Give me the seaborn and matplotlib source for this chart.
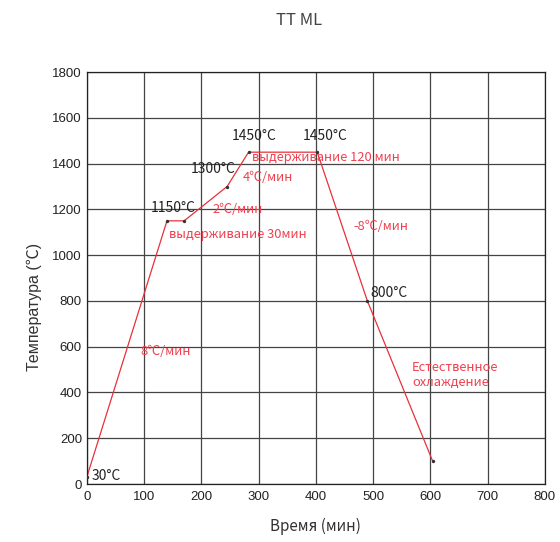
import pandas as pd
import seaborn as sns
import matplotlib.pyplot as plt
from matplotlib.ticker import MultipleLocator

# temperature profile
time_min = [0, 140, 170, 245, 282.5, 402.5, 490, 604]
temp_c = [30, 1150, 1150, 1300, 1450, 1450, 800, 100]

# black labels at points
pt_labels = ["30°C", "1150°C", "1300°C", "1450°C", "1450°C", "800°C"]
pt_x = [8, 112, 182, 253, 377, 496]
pt_y = [35, 1206, 1376, 1520, 1520, 834]

# red segment notes
note_labels = ["8℃/мин", "выдерживание 30мин", "2℃/мин", "4℃/мин",
               "выдерживание 120 мин", "-8℃/мин", "Естественное\nохлаждение"]
note_x = [94, 143, 220, 272, 288, 466, 568]
note_y = [581, 1092, 1201, 1341, 1428, 1127, 476]

df = pd.DataFrame({"time": time_min, "temp": temp_c})

sns.set_style("white")
plt.rcParams['font.family'] = ['Noto Sans CJK SC', 'DejaVu Sans']

fig, ax = plt.subplots(figsize=(5.6, 5.42), dpi=100)
fig.subplots_adjust(left=0.155, right=0.973, top=0.867, bottom=0.107)

sns.lineplot(data=df, x="time", y="temp", sort=False, color="#e8313b", lw=0.9, ax=ax)
ax.scatter(time_min, temp_c, s=2, color="#333333", zorder=3)

ax.set_xlim(0, 800)
ax.set_ylim(0, 1800)
ax.xaxis.set_major_locator(MultipleLocator(100))
ax.xaxis.set_minor_locator(MultipleLocator(50))
ax.yaxis.set_major_locator(MultipleLocator(200))
ax.yaxis.set_minor_locator(MultipleLocator(100))
ax.grid(True, which="major", color="#444444", lw=0.9)
ax.tick_params(which="both", direction="in", labelsize=9.5, colors="#222222")
ax.tick_params(which="major", length=3)
ax.tick_params(which="minor", length=2)
ax.tick_params(axis="x", pad=5)
for lab in ax.get_xticklabels() + ax.get_yticklabels():
    lab.set_family(['Liberation Sans', 'DejaVu Sans'])
for s in ax.spines.values():
    s.set_color("#222222")
    s.set_linewidth(0.9)

ax.set_xlabel("Время (мин)", fontsize=11, color="#333333", labelpad=11)
ax.set_ylabel("Температура (℃)", fontsize=11.5, color="#333333",
              family=['Liberation Sans', 'Noto Sans CJK SC'])
ax.yaxis.set_label_coords(-0.098, 0.43)
fig.text(0.534, 0.963, "TT ML", ha="center", va="center", fontsize=12, color="#444444")

for t, x, y in zip(pt_labels, pt_x, pt_y):
    ax.text(x, y, t, fontsize=10, color="#222222", ha="left", va="center")
for t, x, y in zip(note_labels, note_x, note_y):
    ax.text(x, y, t, fontsize=9.3, color="#f0404f", ha="left", va="center", linespacing=1.2)

fig.savefig("out.png")
